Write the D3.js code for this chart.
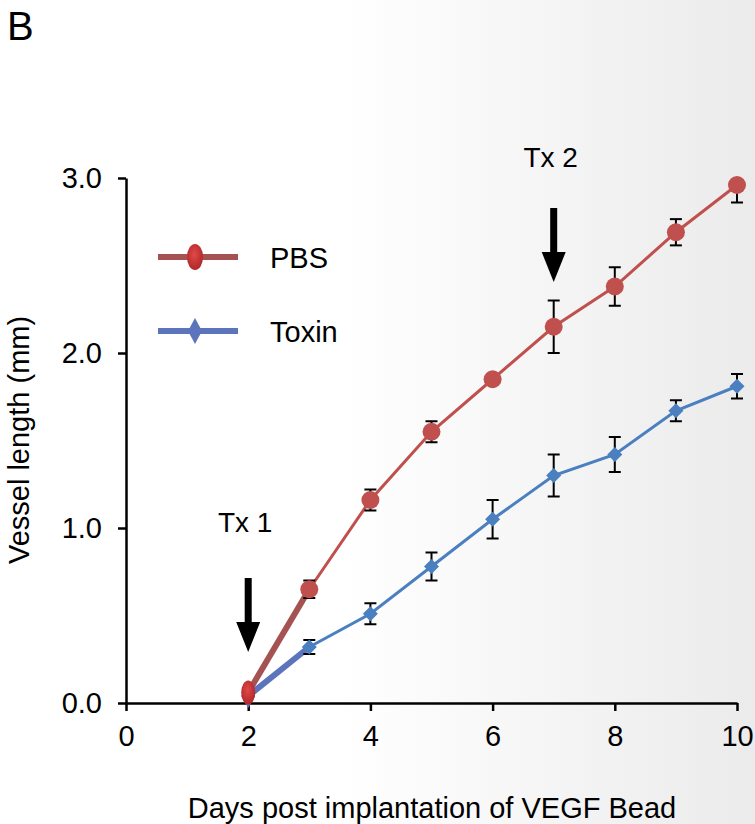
<!DOCTYPE html>
<meta charset="utf-8">
<style>
body { margin: 0; }
svg { display: block; font-family: "Liberation Sans", Arial, sans-serif; }
.axis path, .axis line { stroke: #000; stroke-width: 2.5px; }
.axis text { font-size: 29px; fill: #000; }
</style>
<body>
<script src="https://d3js.org/d3.v7.min.js"></script>
<script>

// data
var days = [2, 3, 4, 5, 6, 7, 8, 9, 10];
var pbs = [0.06, 0.65, 1.16, 1.55, 1.85, 2.15, 2.38, 2.69, 2.96];
var pbsErr = [0, 0.05, 0.06, 0.06, 0.02, 0.15, 0.11, 0.075, 0.10];
var toxin = [0.04, 0.32, 0.51, 0.78, 1.05, 1.30, 1.42, 1.67, 1.81];
var toxinErr = [0, 0.04, 0.06, 0.08, 0.11, 0.12, 0.10, 0.06, 0.07];
var xTicks = [0, 2, 4, 6, 8, 10];
var yTicks = [0, 1, 2, 3];
var treatments = [{ label: "Tx 1", day: 2 }, { label: "Tx 2", day: 7 }];

var W = 755, H = 824;

var svg = d3.select("body").append("svg")
  .attr("width", W)
  .attr("height", H);

var defs = svg.append("defs");

// light grey shading towards the right
var bg = defs.append("linearGradient").attr("id", "bg")
  .attr("x1", "0").attr("y1", "0").attr("x2", "1").attr("y2", "0");
bg.append("stop").attr("offset", "0.45").attr("stop-color", "#ffffff");
bg.append("stop").attr("offset", "1").attr("stop-color", "#ebebeb");

var redBall = defs.append("radialGradient").attr("id", "redBall")
  .attr("cx", "0.45").attr("cy", "0.4").attr("r", "0.6");
redBall.append("stop").attr("offset", "0").attr("stop-color", "#e04848");
redBall.append("stop").attr("offset", "1").attr("stop-color", "#b02828");

svg.append("rect").attr("width", W).attr("height", H).attr("fill", "url(#bg)");

var x = d3.scaleLinear().domain([0, 10]).range([126, 737]);
var y = d3.scaleLinear().domain([0, 3]).range([703, 178]);

// error bars get cut at the top of the plot area
defs.append("clipPath").attr("id", "plot")
  .append("rect")
  .attr("x", x(0) - 20).attr("y", y(3))
  .attr("width", x(10) - x(0) + 40).attr("height", y(0) - y(3) + 20);

// axes
svg.append("g")
  .attr("class", "axis")
  .attr("transform", "translate(0," + y(0) + ")")
  .call(d3.axisBottom(x).tickValues(xTicks).tickSize(8).tickSizeOuter(0).tickPadding(14).tickFormat(d3.format("d")));

svg.append("g")
  .attr("class", "axis")
  .attr("transform", "translate(" + x(0) + ",0)")
  .call(d3.axisLeft(y).tickValues(yTicks).tickSize(8).tickSizeOuter(0).tickPadding(16).tickFormat(d3.format(".1f")));

svg.append("text")
  .attr("x", 432).attr("y", 818)
  .attr("text-anchor", "middle")
  .style("font-size", "29px")
  .text("Days post implantation of VEGF Bead");

svg.append("text")
  .attr("transform", "translate(29," + 440 + ") rotate(-90)")
  .attr("text-anchor", "middle")
  .style("font-size", "29px")
  .text("Vessel length (mm)");

svg.append("text")
  .attr("x", 7).attr("y", 40)
  .style("font-size", "40px")
  .text("B");

var series = [
  { name: "PBS", vals: pbs, err: pbsErr, color: "#c0504d", first: "#a55252" },
  { name: "Toxin", vals: toxin, err: toxinErr, color: "#4a7fc0", first: "#5b74bb" }
];

var line = d3.line()
  .x(function(d) { return x(d.day); })
  .y(function(d) { return y(d.v); });

series.forEach(function(s) {
  var pts = days.map(function(d, i) { return { day: d, v: s.vals[i], e: s.err[i] }; });

  // thick first segment, then the thinner line
  svg.append("path")
    .datum(pts.slice(0, 2))
    .attr("d", line)
    .attr("fill", "none")
    .attr("stroke", s.first)
    .attr("stroke-width", 6);

  svg.append("path")
    .datum(pts.slice(1))
    .attr("d", line)
    .attr("fill", "none")
    .attr("stroke", s.color)
    .attr("stroke-width", 3);

  s.pts = pts;
});

// error bars
series.forEach(function(s) {
  var g = svg.append("g").attr("stroke", "#000").attr("stroke-width", 2).attr("clip-path", "url(#plot)");
  s.pts.filter(function(d) { return d.e > 0; }).forEach(function(d) {
    var cx = x(d.day);
    g.append("line").attr("x1", cx).attr("x2", cx).attr("y1", y(d.v - d.e)).attr("y2", y(d.v + d.e));
    g.append("line").attr("x1", cx - 6).attr("x2", cx + 6).attr("y1", y(d.v - d.e)).attr("y2", y(d.v - d.e));
    g.append("line").attr("x1", cx - 6).attr("x2", cx + 6).attr("y1", y(d.v + d.e)).attr("y2", y(d.v + d.e));
  });
});

function diamond(cx, cy, w, h) {
  return "M" + cx + "," + (cy - h) + "L" + (cx + w) + "," + cy + "L" + cx + "," + (cy + h) + "L" + (cx - w) + "," + cy + "Z";
}

// markers: toxin diamonds
svg.selectAll(".tox")
  .data(series[1].pts.slice(1))
  .enter().append("path")
  .attr("d", function(d) { return diamond(x(d.day), y(d.v), 7.5, 7.5); })
  .attr("fill", "#4a7fc0");

svg.append("path")
  .attr("d", diamond(x(2), y(toxin[0]), 7, 12))
  .attr("fill", "#5b74bb");

// PBS circles
svg.selectAll(".pbs")
  .data(series[0].pts.slice(1))
  .enter().append("circle")
  .attr("cx", function(d) { return x(d.day); })
  .attr("cy", function(d) { return y(d.v); })
  .attr("r", 9)
  .attr("fill", "#c0504d");

svg.append("ellipse")
  .attr("cx", x(2)).attr("cy", y(pbs[0]))
  .attr("rx", 7).attr("ry", 12)
  .attr("fill", "url(#redBall)");

// treatment arrows
treatments.forEach(function(t) {
  var ax = x(t.day);
  var top = t.day === 2 ? 578 : 208;
  svg.append("rect").attr("x", ax - 3.5).attr("y", top).attr("width", 7).attr("height", 46).attr("fill", "#000");
  svg.append("path")
    .attr("d", "M" + (ax - 12) + "," + (top + 44) + "L" + (ax + 12) + "," + (top + 44) + "L" + ax + "," + (top + 74) + "Z")
    .attr("fill", "#000");
  svg.append("text")
    .attr("x", ax - 3).attr("y", t.day === 2 ? 532 : 167)
    .attr("text-anchor", "middle")
    .style("font-size", "28px")
    .text(t.label);
});

// legend
var legend = svg.append("g");
legend.append("line").attr("x1", 158).attr("x2", 238).attr("y1", 257).attr("y2", 257)
  .attr("stroke", "#a55252").attr("stroke-width", 6);
legend.append("ellipse").attr("cx", 195).attr("cy", 257).attr("rx", 8).attr("ry", 13)
  .attr("fill", "url(#redBall)");
legend.append("text").attr("x", 270).attr("y", 268).style("font-size", "29px").text("PBS");

legend.append("line").attr("x1", 158).attr("x2", 238).attr("y1", 331).attr("y2", 331)
  .attr("stroke", "#5b74bb").attr("stroke-width", 6);
legend.append("path").attr("d", diamond(195, 331, 7, 13)).attr("fill", "#5b74bb");
legend.append("text").attr("x", 270).attr("y", 342).style("font-size", "29px").text("Toxin");

</script>
</body>
